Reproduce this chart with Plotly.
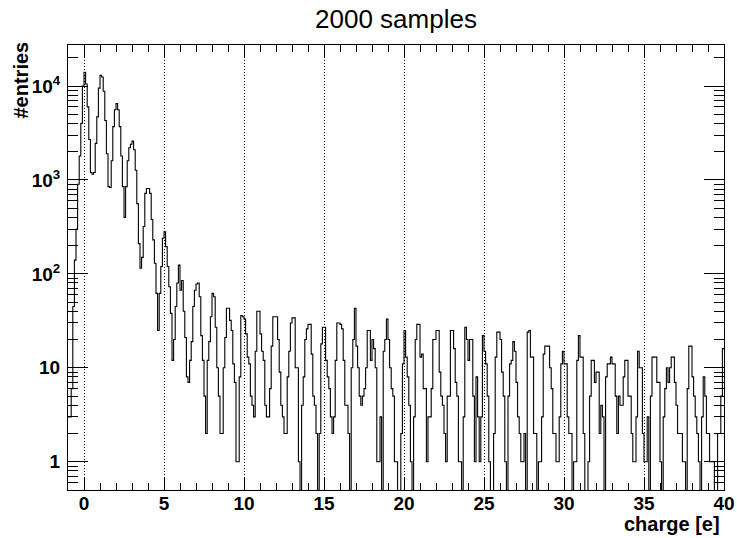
import numpy as np
import plotly.graph_objects as go

# Histogram binning: 410 bins of 0.1 e from -1 to 40
bin_low = -1.0
bin_high = 40.0

# Bin contents, one row per unit of charge (10 bins of 0.1 each), row starts at x = -1, 0, 1, ...
counts = [
    3, 3, 6, 45, 140, 300, 900, 1800, 4000, 10000,            # -1.0
    14000, 10500, 6000, 2700, 1200, 1150, 1200, 2450, 4700, 9500,  # 0
    13000, 12500, 8800, 4300, 1900, 850, 830, 1600, 3700, 5600,    # 1
    6500, 5600, 3700, 1800, 850, 400, 850, 1600, 2200, 2400,       # 2
    2600, 2100, 1270, 560, 210, 115, 150, 320, 720, 810,           # 3
    810, 720, 380, 230, 130, 62, 25, 62, 120, 240,                 # 4
    280, 195, 120, 73, 38, 12, 20, 45, 80, 124,                    # 5
    67, 85, 40, 21, 8, 7, 12, 19, 45, 67,                          # 6
    78, 80, 57, 22, 12, 5, 2, 12, 19, 35,                          # 7
    62, 57, 27, 10, 5, 2, 2, 10, 21, 43,                           # 8
    43, 32, 25, 11, 7, 1, 1, 8, 36, 35,                            # 9
    33, 23, 13, 11, 5, 4, 3, 15, 40, 40,                           # 10
    23, 15, 12, 4, 3, 3, 6, 17, 35, 35,                            # 11
    35, 20, 9, 4, 3, 2, 2, 8, 15, 30,                              # 12
    34, 34, 10, 10, 1, 0, 4, 8, 20, 26,                            # 13
    29, 29, 14, 5, 4, 2, 0, 2, 18, 27,                             # 14
    27, 12, 8, 6, 3, 2, 3, 12, 30, 30,                             # 15
    29, 26, 12, 4, 4, 2, 0, 10, 20, 43,                            # 16
    17, 10, 5, 4, 5, 6, 10, 25, 25, 12,                            # 17
    20, 16, 10, 1, 1, 3, 0, 15, 20, 33,                            # 18
    20, 10, 6, 5, 1, 1, 0, 0, 2, 11,                               # 19
    25, 13, 8, 4, 1, 0, 3, 20, 29, 29,                             # 20
    13, 14, 6, 6, 1, 3, 3, 6, 20, 20,                              # 21
    25, 25, 9, 5, 4, 2, 1, 5, 5, 25,                               # 22
    25, 16, 7, 5, 1, 1, 0, 3, 27, 20,                              # 23
    12, 20, 20, 5, 1, 8, 3, 1, 3, 22,                              # 24
    15, 11, 5, 1, 0, 0, 2, 13, 24, 24,                             # 25
    20, 9, 5, 1, 0, 5, 11, 12, 19, 15,                             # 26
    7, 3, 2, 1, 1, 2, 0, 24, 25, 13,                               # 27
    13, 2, 2, 0, 1, 1, 3, 14, 17, 17,                              # 28
    17, 10, 6, 2, 2, 1, 1, 3, 11, 15,                              # 29
    11, 11, 3, 2, 2, 0, 1, 1, 12, 22,                              # 30
    13, 13, 2, 0, 0, 1, 5, 12, 12, 7,                              # 31
    9, 9, 2, 4, 3, 0, 8, 11, 11, 13,                               # 32
    11, 11, 5, 2, 5, 4, 4, 8, 12, 12,                              # 33
    5, 5, 2, 1, 1, 3, 15, 10, 10, 2,                               # 34
    1, 1, 3, 0, 5, 13, 13, 13, 7, 7,                               # 35
    1, 0, 3, 6, 10, 7, 10, 13, 13, 7,                              # 36
    4, 2, 2, 2, 1, 1, 0, 6, 17, 17,                                # 37
    8, 5, 3, 2, 1, 0, 3, 8, 5, 2,                                  # 38
    2, 1, 1, 1, 0, 0, 2, 2, 5, 16,                                 # 39
]

title_text = "2000 samples"
x_title = "charge [e]"
y_title = "#entries"
y_tickvals = [1, 10, 100, 1000, 10000]
y_ticktext = ["1", "10", "10<sup>2</sup>", "10<sup>3</sup>", "10<sup>4</sup>"]
y_minor = [0.6, 0.7, 0.8, 0.9] + [k * 10 ** d for d in range(0, 5) for k in range(2, 10)]

n_bins = len(counts)
edges = np.linspace(bin_low, bin_high, n_bins + 1)
# empty bins fall below the log axis (drawn down to the frame, as ROOT does)
y_draw = [c if c > 0 else 1e-3 for c in counts]
x_line = list(edges)
y_line = y_draw + [y_draw[-1]]

FONT = "Liberation Sans, Arial, Helvetica, sans-serif"

fig = go.Figure(
    go.Scatter(
        x=x_line, y=y_line, mode="lines",
        line=dict(color="black", width=1.1, shape="hv"),
        hoverinfo="skip",
    )
)

fig.update_layout(
    width=737, height=538,
    margin=dict(l=68, r=13, t=45, b=48, autoexpand=False),
    plot_bgcolor="white", paper_bgcolor="white",
    showlegend=False,
    font=dict(family=FONT, color="black"),
    title=dict(text=title_text, x=0.5, xref="paper", xanchor="center",
               y=1 - 19 / 538, yref="container", yanchor="middle",
               font=dict(family=FONT, size=26, color="black")),
    annotations=[
        dict(text=x_title, xref="paper", yref="paper", x=0.997, y=(490 - 524) / 445,
             xanchor="right", yanchor="middle", showarrow=False,
             font=dict(family=FONT, size=20, color="black", weight="bold")),
        dict(text=y_title, xref="paper", yref="paper", x=(21 - 68) / 656, y=(490 - 40) / 445,
             xanchor="center", yanchor="top", textangle=-90, showarrow=False,
             font=dict(family=FONT, size=20, color="black", weight="bold")),
    ],
)

fig.update_xaxes(
    automargin=False,
    range=[bin_low, bin_high], tick0=0, dtick=5,
    ticks="inside", ticklen=13, tickwidth=1, tickcolor="black",
    showline=True, linecolor="black", linewidth=1, mirror="allticks",
    showgrid=True, gridcolor="black", griddash="1px,2px", gridwidth=1,
    zeroline=False,
    ticklabelstandoff=-4,
    tickfont=dict(family=FONT, size=19, color="black", weight="bold"),
    minor=dict(dtick=1, tick0=0, ticks="inside", ticklen=7, tickwidth=1,
               tickcolor="black", showgrid=False),
)

fig.update_yaxes(
    automargin=False,
    type="log", range=[np.log10(0.5), 4.437],
    tickvals=y_tickvals, ticktext=y_ticktext,
    ticks="inside", ticklen=20, tickwidth=1, tickcolor="black",
    showline=True, linecolor="black", linewidth=1, mirror="allticks",
    showgrid=False, zeroline=False,
    ticklabelstandoff=3,
    tickfont=dict(family=FONT, size=19, color="black", weight="bold"),
    minor=dict(tickvals=y_minor, ticks="inside", ticklen=10, tickwidth=1,
               tickcolor="black", showgrid=False),
)

fig.write_html("out.html")
